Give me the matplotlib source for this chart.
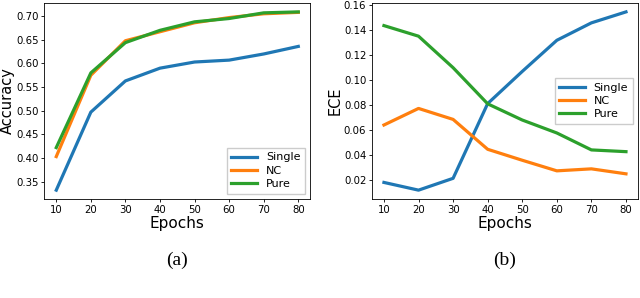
import matplotlib
matplotlib.use("Agg")
import matplotlib.pyplot as plt

epochs = [10, 20, 30, 40, 50, 60, 70, 80]

acc_single = [0.332, 0.497, 0.563, 0.590, 0.603, 0.607, 0.620, 0.636]
acc_nc = [0.403, 0.575, 0.648, 0.667, 0.686, 0.697, 0.705, 0.708]
acc_pure = [0.422, 0.580, 0.644, 0.670, 0.688, 0.695, 0.707, 0.709]

ece_single = [0.0179, 0.0117, 0.0212, 0.0812, 0.107, 0.132, 0.146, 0.1548]
ece_nc = [0.064, 0.0773, 0.0685, 0.0445, 0.0357, 0.0272, 0.0288, 0.0248]
ece_pure = [0.1438, 0.1353, 0.110, 0.081, 0.068, 0.0576, 0.044, 0.0426]

names = ["Single", "NC", "Pure"]
colors = ["#1f77b4", "#ff7f0e", "#2ca02c"]

fig = plt.figure(figsize=(6.4, 2.98), dpi=100)
ax1 = fig.add_axes([0.069, 0.332, 0.416, 0.658])
ax2 = fig.add_axes([0.581, 0.332, 0.416, 0.658])

for ax, series, ylabel, loc, cap in [
    (ax1, [acc_single, acc_nc, acc_pure], "Accuracy", "lower right", "(a)"),
    (ax2, [ece_single, ece_nc, ece_pure], "ECE", "center right", "(b)"),
]:
    for vals, name, c in zip(series, names, colors):
        ax.plot(epochs, vals, color=c, lw=2.3, label=name)
    ax.set_xticks(epochs)
    ax.tick_params(labelsize=7.3, length=2.5, width=0.6, pad=1.5)
    ax.set_xlabel("Epochs", fontsize=11, labelpad=1)
    ax.set_ylabel(ylabel, fontsize=10.5, labelpad=1)
    for s in ax.spines.values():
        s.set_linewidth(0.6)
    ax.legend(loc=loc, fontsize=8, handlelength=2.3, borderpad=0.4,
              labelspacing=0.3, fancybox=False, framealpha=1)
    ax.text(0.5, -0.311, cap, transform=ax.transAxes, ha="center", va="center",
            fontsize=14, family="Liberation Serif")

ax1.set_yticks([0.35, 0.40, 0.45, 0.50, 0.55, 0.60, 0.65, 0.70])
ax2.set_yticks([0.02, 0.04, 0.06, 0.08, 0.10, 0.12, 0.14, 0.16])

fig.savefig("out.png", dpi=100)
